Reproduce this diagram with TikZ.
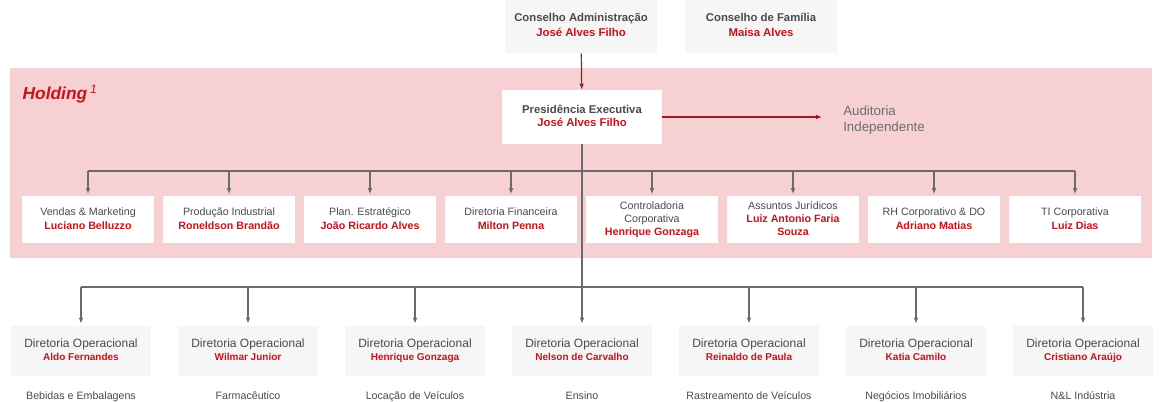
\documentclass[tikz,border=0pt]{standalone}
\usepackage{fontspec}
\setmainfont{Liberation Sans}
\usetikzlibrary{positioning,arrows.meta}
\definecolor{holdpink}{HTML}{F7D0D3}
\definecolor{namered}{HTML}{C4141C}
\definecolor{linkred}{HTML}{9E1B22}
\definecolor{titlegray}{HTML}{4A4A4A}
\definecolor{busgray}{HTML}{6B6B6B}
\definecolor{boardgray}{HTML}{F6F6F6}
\newcommand{\pname}[1]{{\bfseries\color{namered}#1}}
\newcommand{\opname}[1]{{\fontsize{7.5}{9.75}\selectfont\bfseries\color{namered}#1}}
\tikzset{
  board/.style={fill=boardgray, minimum width=114pt, minimum height=41pt, align=center,
    font=\fontsize{8.5}{11.25}\selectfont\bfseries, text=titlegray, text depth=2pt},
  chief/.style={fill=white, minimum width=120pt, minimum height=40.5pt, align=center,
    font=\fontsize{8.5}{9.75}\selectfont\bfseries, text=titlegray, text depth=2pt},
  staff/.style={fill=white, minimum width=99pt, minimum height=35.25pt, align=center,
    font=\fontsize{8}{10}\selectfont, text=titlegray, text depth=2pt},
  opdir/.style={fill=boardgray, minimum width=105pt, minimum height=37.5pt, align=center,
    font=\fontsize{9}{9.75}\selectfont, text=titlegray, text depth=2pt},
  sector/.style={font=\fontsize{8}{10}\selectfont, text=titlegray, text height=6pt, text depth=2pt},
  redlink/.style={draw=linkred, line width=0.9pt, -{Latex[length=4.5pt,width=3.5pt]}},
  buslink/.style={draw=busgray, line width=1.1pt},
  busarrow/.style={buslink, -{Latex[length=4.5pt,width=3.5pt]}, shorten >=1.5pt}
}
\begin{document}
\begin{tikzpicture}[x=0.75pt,y=-0.75pt,every node/.style={on grid}]
  \useasboundingbox (0,0) rectangle (1160,402);
  % holding band
  \fill[holdpink] (10,68) rectangle (1152,258);
  \node[anchor=west, font=\fontsize{13}{15}\selectfont\bfseries\itshape, text=namered] (HD) at (18,94) {Holding\,\textsuperscript{\mdseries 1}};
  % boards and executive
  \node[board] (CA) at (581,26) {Conselho Administração\\\pname{José Alves Filho}};
  \node[board] (CF) at (761,26) {Conselho de Família\\\pname{Maisa Alves}};
  \node[chief] (PE) at (582,117) {Presidência Executiva\\\pname{José Alves Filho}};
  \node[anchor=west, align=left, inner sep=0pt, font=\fontsize{10}{12}\selectfont, text=titlegray!80] (AU) at (843,120) {Auditoria\\Independente};
  % corporate staff
  \node[staff] (S1) at (88,220) {Vendas \& Marketing\\\pname{Luciano Belluzzo}};
  \node[staff, right=105.75pt of S1] (S2) {Produção Industrial\\\pname{Roneldson Brandão}};
  \node[staff, right=105.75pt of S2] (S3) {Plan. Estratégico\\\pname{João Ricardo Alves}};
  \node[staff, right=105.75pt of S3] (S4) {Diretoria Financeira\\\pname{Milton Penna}};
  \node[staff, right=105.75pt of S4] (S5) {Controladoria\\Corporativa\\\pname{Henrique Gonzaga}};
  \node[staff, right=105.75pt of S5] (S6) {Assuntos Jurídicos\\\pname{Luiz Antonio Faria}\\\pname{Souza}};
  \node[staff, right=105.75pt of S6] (S7) {RH Corporativo \& DO\\\pname{Adriano Matias}};
  \node[staff, right=105.75pt of S7] (S8) {TI Corporativa\\\pname{Luiz Dias}};
  % operational directors
  \node[opdir] (O1) at (81,351) {Diretoria Operacional\\\opname{Aldo Fernandes}};
  \node[opdir, right=125.25pt of O1] (O2) {Diretoria Operacional\\\opname{Wilmar Junior}};
  \node[opdir, right=125.25pt of O2] (O3) {Diretoria Operacional\\\opname{Henrique Gonzaga}};
  \node[opdir, right=125.25pt of O3] (O4) {Diretoria Operacional\\\opname{Nelson de Carvalho}};
  \node[opdir, right=125.25pt of O4] (O5) {Diretoria Operacional\\\opname{Reinaldo de Paula}};
  \node[opdir, right=125.25pt of O5] (O6) {Diretoria Operacional\\\opname{Katia Camilo}};
  \node[opdir, right=125.25pt of O6] (O7) {Diretoria Operacional\\\opname{Cristiano Araújo}};
  \node[sector, below=34.5pt of O1] (B1) {Bebidas e Embalagens};
  \node[sector, below=34.5pt of O2] (B2) {Farmacêutico};
  \node[sector, below=34.5pt of O3] (B3) {Locação de Veículos};
  \node[sector, below=34.5pt of O4] (B4) {Ensino};
  \node[sector, below=34.5pt of O5] (B5) {Rastreamento de Veículos};
  \node[sector, below=34.5pt of O6] (B6) {Negócios Imobiliários};
  \node[sector, below=34.5pt of O7] (B7) {N\&L Indústria};
  \coordinate (hubS) at (582,171);
  \coordinate (hubO) at (582,287);
  % connectors
  \draw[redlink] (CA) -- (PE);
  \draw[redlink, shorten >=15.75pt] (PE.east) -- (PE.east -| AU.west);
  \draw[buslink] (PE) -- (hubO);
  \draw[buslink] (S1.north |- hubS) -- (S8.north |- hubS);
  \draw[busarrow] (S1.north |- hubS) -- (S1);
  \draw[busarrow] (S2.north |- hubS) -- (S2);
  \draw[busarrow] (S3.north |- hubS) -- (S3);
  \draw[busarrow] (S4.north |- hubS) -- (S4);
  \draw[busarrow] (S5.north |- hubS) -- (S5);
  \draw[busarrow] (S6.north |- hubS) -- (S6);
  \draw[busarrow] (S7.north |- hubS) -- (S7);
  \draw[busarrow] (S8.north |- hubS) -- (S8);
  \draw[buslink] (O1.north |- hubO) -- (O7.north |- hubO);
  \draw[busarrow] (O1.north |- hubO) -- (O1);
  \draw[busarrow] (O2.north |- hubO) -- (O2);
  \draw[busarrow] (O3.north |- hubO) -- (O3);
  \draw[busarrow] (O4.north |- hubO) -- (O4);
  \draw[busarrow] (O5.north |- hubO) -- (O5);
  \draw[busarrow] (O6.north |- hubO) -- (O6);
  \draw[busarrow] (O7.north |- hubO) -- (O7);
\end{tikzpicture}
\end{document}
